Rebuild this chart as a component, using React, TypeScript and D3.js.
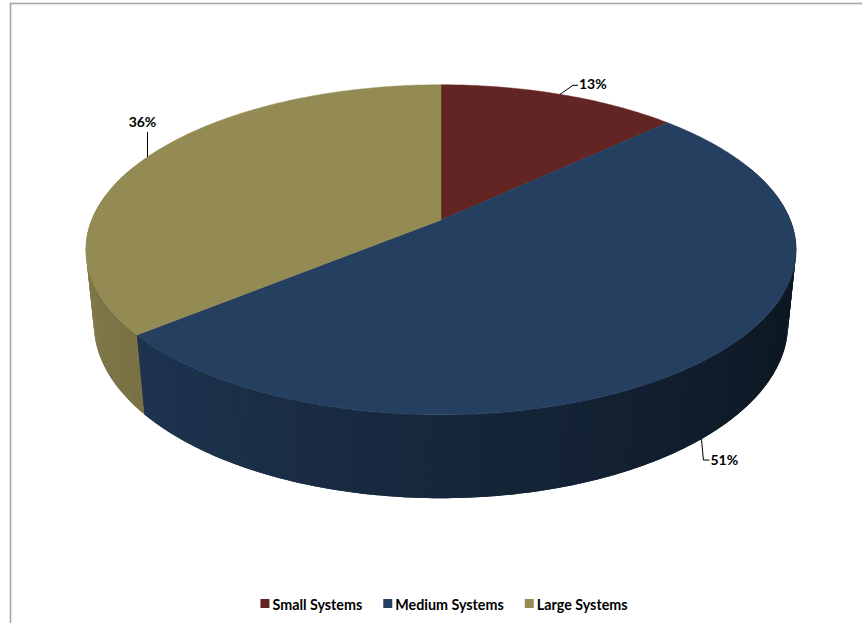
import React, { useEffect, useRef } from "react";
import * as d3 from "d3";

const categories = ["Small Systems", "Medium Systems", "Large Systems"];
const values = [13, 51, 36];
const labels = ["13%", "51%", "36%"];
const colors = ["#632523", "#243F60", "#948A54"];

const W = 862;
const H = 623;

export default function App() {
  const ref = useRef<SVGSVGElement | null>(null);

  useEffect(() => {
    const svg = d3.select(ref.current);
    svg.selectAll("*").remove();

    // perspective parameters
    const cx = 441, cy0 = 220;
    const sinE = 0.457, cosE = Math.sqrt(1 - 0.457 * 0.457);
    const D = 4.93, f = 1722, h = 0.24;
    const project = (t: number, y: number): [number, number] => {
      const x = Math.sin(t), z = Math.cos(t);
      const v = z * sinE + y * cosE;
      const w = D + z * cosE - y * sinE;
      return [cx + (f * x) / w, cy0 - (f * v) / w];
    };

    const pie = d3.pie<number>().sort(null).value((d) => d)(values);

    // border
    svg.append("rect").attr("x", 10.5).attr("y", 3.5).attr("width", 900).attr("height", 700)
      .attr("fill", "none").attr("stroke", "#a8a8a8").attr("stroke-width", 1.6);

    const g = svg.append("g");

    // side walls
    const step = (1 * Math.PI) / 180;
    const quads: { t1: number; t2: number; i: number; end: number }[] = [];
    pie.forEach((p, i) => {
      for (let t = p.startAngle; t < p.endAngle - 1e-9; t += step) {
        quads.push({ t1: t, t2: Math.min(t + step, p.endAngle), i, end: p.endAngle });
      }
    });
    quads.sort((a, b) => Math.cos((b.t1 + b.t2) / 2) - Math.cos((a.t1 + a.t2) / 2));
    const line = d3.line();
    quads.forEach((q) => {
      const tm = (q.t1 + q.t2) / 2;
      if (Math.cos(tm) > 0.35) return;
      const k = Math.max(0.3, Math.min(0.95, 0.62 - 0.26 * Math.sin(tm)));
      const base = d3.rgb(colors[q.i]);
      const c = d3.rgb(base.r * k, base.g * k, base.b * k).toString();
      const ta = Math.max(q.t1 - step * 0.5, q.t1 === q.t2 ? q.t1 : q.t1 - step * 0.5);
      const tb = Math.min(q.t2 + step * 0.5, q.end);
      const n = 3;
      const top: [number, number][] = [];
      const bot: [number, number][] = [];
      for (let j = 0; j <= n; j++) {
        const t = ta + ((tb - ta) * j) / n;
        top.push(project(t, 0));
        bot.push(project(t, -h));
      }
      const pts = [...top, ...bot.reverse()];
      g.append("path").attr("d", line(pts) + "Z").attr("fill", c);
    });

    // top faces
    const fstep = (0.5 * Math.PI) / 180;
    pie.forEach((p, i) => {
      const pts: [number, number][] = [[cx, cy0]];
      const n = Math.max(4, Math.ceil((p.endAngle - p.startAngle) / fstep));
      for (let j = 0; j <= n; j++) {
        pts.push(project(p.startAngle + ((p.endAngle - p.startAngle) * j) / n, 0));
      }
      g.append("path").attr("d", line(pts) + "Z").attr("fill", colors[i]).attr("stroke", colors[i]).attr("stroke-width", 0.5);
    });

    // labels
    const font = "Lato, 'Open Sans', sans-serif";
    const leaders = [
      { y: 0, path: [[13, -9], [18, -9]], tx: 19, ty: -5, anchor: "start" },
      { y: -h, path: [[2, 21], [8, 21]], tx: 9, ty: 26, anchor: "start" },
      { y: 0, path: [[0, -25]], tx: -5, ty: -30, anchor: "middle" },
    ];
    pie.forEach((p, i) => {
      const mid = (p.startAngle + p.endAngle) / 2;
      const L = leaders[i];
      const a = project(mid, L.y);
      const pts: [number, number][] = [a, ...L.path.map((d) => [a[0] + d[0], a[1] + d[1]] as [number, number])];
      svg.append("path").attr("d", line(pts)).attr("fill", "none").attr("stroke", "#000").attr("stroke-width", 1);
      svg.append("text").attr("x", a[0] + L.tx).attr("y", a[1] + L.ty)
        .attr("text-anchor", L.anchor).attr("font-family", font).attr("font-weight", "bold")
        .attr("font-size", 14).attr("fill", "#000").text(labels[i]);
    });

    // legend
    const lg = svg.append("g");
    let x = 0;
    categories.forEach((c, i) => {
      const t = lg.append("text").attr("x", x + 12).attr("y", 609.5).attr("font-family", font)
        .attr("font-weight", "bold").attr("font-size", 14.3).attr("fill", "#000").text(c);
      lg.append("rect").attr("x", x).attr("y", 599).attr("width", 9).attr("height", 9).attr("fill", colors[i]);
      const w = (t.node() as SVGTextElement).getComputedTextLength();
      x += 12 + w + 21;
    });
    const total = x - 21;
    lg.attr("transform", `translate(${444 - total / 2},0)`);
  }, []);

  return (
    <svg ref={ref} width={W} height={H} style={{ position: "absolute", left: 0, top: 0, background: "#fff" }} />
  );
}
